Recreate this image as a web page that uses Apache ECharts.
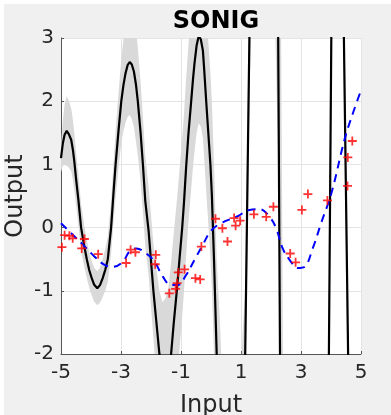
<!DOCTYPE html>
<html>
<head>
<meta charset="utf-8">
<script src="https://cdn.jsdelivr.net/npm/echarts@6/dist/echarts.min.js"></script>
<style>
html,body{margin:0;padding:0;background:#ffffff;}
#chart{position:absolute;left:4px;top:4px;width:387px;height:411px;}
</style>
</head>
<body>
<div id="chart"></div>
<script>
// ---- data ----
const xTicks = [-5, -3, -1, 1, 3, 5];
const yTicks = [-2, -1, 0, 1, 2, 3];

// SONIG posterior mean (black line)
const meanX = [-5.0,-4.94,-4.88,-4.81,-4.74,-4.66,-4.6,-4.55,-4.5,-4.42,-4.33,-4.23,-4.14,-4.06,-3.99,-3.9,-3.79,-3.7,-3.61,-3.52,-3.44,-3.33,-3.25,-3.18,-3.08,-2.99,-2.92,-2.85,-2.78,-2.71,-2.64,-2.57,-2.5,-2.44,-2.35,-2.27,-2.19,-2.08,-1.92,-1.82,-1.72,-1.62,-1.52,-1.42,-1.33,-1.24,-1.14,-1.05,-0.96,-0.9,-0.83,-0.75,-0.66,-0.6,-0.55,-0.48,-0.41,-0.34,-0.27,-0.22,-0.16,-0.09,-0.02,0.03,0.1,0.19,0.3,0.5,0.7,0.9,1.05,1.14,1.21,1.28,1.4,1.75,2.1,2.24,2.3,2.4,3.1,3.8,3.93,4.01,4.15,4.3,4.43,4.57,4.7,5.0];
const meanY = [1.10,1.33,1.47,1.53,1.48,1.39,1.22,1.02,0.78,0.44,0.0,-0.28,-0.5,-0.67,-0.78,-0.9,-0.96,-0.91,-0.8,-0.66,-0.5,0.0,0.55,1.0,1.55,2.0,2.25,2.44,2.57,2.62,2.58,2.47,2.26,2.0,1.52,1.0,0.42,-0.05,-1.0,-1.5,-2.0,-2.38,-2.52,-2.4,-2.0,-1.5,-1.0,-0.5,0.0,0.4,0.95,1.5,2.0,2.35,2.6,2.88,3.03,2.98,2.8,2.45,2.0,1.5,1.0,0.5,-0.5,-2.0,-3.6,-6.0,-7.0,-6.0,-3.6,-2.0,0.5,3.0,6.0,9.0,6.5,3.0,-2.0,-10.0,-40.0,-10.0,-2.0,3.0,9.0,11.0,3.0,-2.0,-9.0,-20.0];
// uncertainty band (grey), same x as the mean
const bandLower = [0.88,0.98,0.99,0.98,0.95,0.89,0.75,0.57,0.36,0.04,-0.37,-0.61,-0.80,-0.95,-1.05,-1.17,-1.23,-1.19,-1.10,-0.99,-0.86,-0.42,0.08,0.48,0.95,1.34,1.53,1.66,1.75,1.78,1.72,1.59,1.36,1.15,0.72,0.25,-0.30,-0.75,-1.75,-2.35,-3.00,-3.58,-3.92,-3.85,-3.45,-2.92,-2.42,-1.92,-1.41,-1.00,-0.45,0.10,0.61,0.96,1.21,1.50,1.65,1.60,1.42,1.05,0.58,0.06,-0.46,-0.98,-2.00,-3.50,-5.5,-8.0,-9.5,-8.5,-5.5,-3.0,-0.5,2.0,4.5,6.0,4.0,1.0,-4.0,-13.0,-50.0,-13.0,-3.0,2.0,7.0,9.0,2.0,-3.0,-11.0,-25.0];
const bandUpper = [1.32,1.68,1.95,2.08,2.01,1.89,1.69,1.47,1.20,0.84,0.37,0.05,-0.20,-0.39,-0.51,-0.63,-0.69,-0.63,-0.50,-0.33,-0.14,0.42,1.02,1.52,2.15,2.66,2.97,3.22,3.39,3.46,3.44,3.35,3.16,2.85,2.32,1.75,1.14,0.65,-0.25,-0.65,-1.00,-1.18,-1.12,-0.95,-0.55,-0.08,0.42,0.92,1.41,1.80,2.35,2.90,3.39,3.74,3.99,4.26,4.41,4.36,4.18,3.85,3.42,2.94,2.46,1.98,1.00,-0.50,-1.5,-4.0,-4.5,-3.5,-1.7,-1.0,1.5,4.0,7.5,12.0,9.0,11.0,6.0,-2.0,-30.0,-7.0,-1.0,4.0,11.0,13.0,4.0,-1.0,-7.0,-15.0];

// true function (blue dashed)
const trueX = [-5.0,-4.66,-4.27,-3.88,-3.55,-3.27,-2.94,-2.72,-2.49,-2.16,-1.88,-1.6,-1.33,-1.11,-0.83,-0.55,-0.27,0.0,0.34,0.89,1.28,1.62,1.95,2.17,2.39,2.62,2.89,3.12,3.39,3.67,4.01,4.45,4.73,5.0];
const trueY = [0.07,-0.09,-0.27,-0.46,-0.59,-0.62,-0.54,-0.38,-0.33,-0.41,-0.54,-0.78,-0.91,-0.91,-0.75,-0.51,-0.27,-0.05,0.07,0.18,0.28,0.29,0.17,-0.01,-0.33,-0.51,-0.64,-0.62,-0.33,0.07,0.54,1.39,1.81,2.17];

// measurements (red +)
const obsX = [-4.97,-4.88,-4.72,-4.61,-4.31,-4.22,-3.76,-2.83,-2.68,-2.52,-1.84,-1.86,-1.39,-1.18,-1.13,-1.09,-0.88,-0.52,-0.36,-0.32,0.15,0.38,0.55,0.77,0.82,0.97,1.43,1.84,2.08,2.64,2.82,3.03,3.23,3.88,4.55,4.56,4.71];
const obsY = [-0.31,-0.12,-0.13,-0.17,-0.33,-0.18,-0.42,-0.56,-0.35,-0.39,-0.43,-0.58,-1.04,-0.97,-0.88,-0.71,-0.66,-0.80,-0.82,-0.30,0.14,-0.01,-0.22,0.15,0.03,0.11,0.21,0.17,0.33,-0.41,-0.55,0.28,0.53,0.43,0.66,1.11,1.37];

const pairs = (xs, ys) => xs.map((x, i) => [x, ys[i]]);
const TXT = '#262626';
const FONT = 'DejaVu Sans';

const chart = echarts.init(document.getElementById('chart'), null, {renderer: 'canvas'});
chart.setOption({
  animation: false,
  backgroundColor: '#f0f0f0',
  title: {
    text: 'SONIG', left: 207, top: 1, textAlign: 'center',
    textStyle: {fontFamily: FONT, fontSize: 24, fontWeight: 'bold', color: '#000'}
  },
  graphic: [{
    type: 'text', x: 12, y: 192, rotation: Math.PI / 2, silent: true,
    style: {text: 'Output', fill: TXT, fontFamily: FONT, fontSize: 24, align: 'center', verticalAlign: 'middle'}
  }],
  grid: {left: 57, top: 34, width: 300, height: 316, backgroundColor: '#ffffff', show: true, borderWidth: 0,
         containLabel: false, outerBoundsMode: 'none'},
  xAxis: {
    type: 'value', min: xTicks[0], max: xTicks[xTicks.length - 1], interval: 2,
    name: 'Input', nameLocation: 'middle', nameGap: 40,
    nameTextStyle: {fontFamily: FONT, fontSize: 24, color: TXT},
    axisLine: {show: true, onZero: false, lineStyle: {color: '#555', width: 1}},
    axisTick: {show: true, inside: true, length: 3, lineStyle: {color: '#555'}},
    axisLabel: {fontFamily: FONT, fontSize: 20, color: TXT, margin: 9},
    splitLine: {show: true, lineStyle: {color: '#e4e4e4', width: 1}}
  },
  yAxis: {
    type: 'value', min: yTicks[0], max: yTicks[yTicks.length - 1], interval: 1,
    axisLine: {show: true, onZero: false, lineStyle: {color: '#555', width: 1}},
    axisTick: {show: true, inside: true, length: 3, lineStyle: {color: '#555'}},
    axisLabel: {fontFamily: FONT, fontSize: 20, color: TXT, margin: 7},
    splitLine: {show: true, lineStyle: {color: '#e4e4e4', width: 1}}
  },
  series: [
    {
      type: 'custom', clip: true, z: 1, silent: true,
      data: [[0, 0]],
      renderItem: function (params, api) {
        const pts = [];
        for (let i = 0; i < meanX.length; i++) pts.push(api.coord([meanX[i], bandUpper[i]]));
        for (let i = meanX.length - 1; i >= 0; i--) pts.push(api.coord([meanX[i], bandLower[i]]));
        return {type: 'polygon', shape: {points: pts}, style: {fill: '#d9d9d9', stroke: null}};
      }
    },
    {
      type: 'line', z: 2, data: pairs(meanX, meanY), showSymbol: false, clip: true,
      lineStyle: {color: '#000000', width: 2.2}
    },
    {
      type: 'line', z: 3, data: pairs(trueX, trueY), showSymbol: false, clip: true, smooth: 0.4,
      lineStyle: {color: '#0000ff', width: 2, type: [8, 6]}
    },
    {
      type: 'scatter', z: 4, data: pairs(obsX, obsY),
      symbol: 'path://M4,0H6V4H10V6H6V10H4V6H0V4H4Z', symbolSize: 9,
      itemStyle: {color: '#ff0000'}
    }
  ]
});
</script>
</body>
</html>
